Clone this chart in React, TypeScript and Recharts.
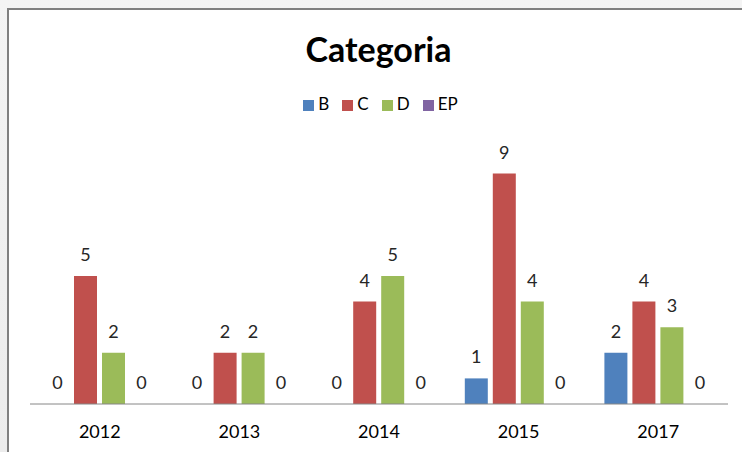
import { Bar, BarChart, LabelList, Legend, XAxis, YAxis } from "recharts";

const years = ["2012", "2013", "2014", "2015", "2017"];
const seriesB = [0, 0, 0, 1, 2];
const seriesC = [5, 2, 4, 9, 4];
const seriesD = [2, 2, 5, 4, 3];
const seriesEP = [0, 0, 0, 0, 0];

const data = years.map((year, i) => ({
  year,
  B: seriesB[i],
  C: seriesC[i],
  D: seriesD[i],
  EP: seriesEP[i],
}));

const font = "Lato, 'Open Sans', sans-serif";

const series = [
  { key: "B", color: "#4F81BD" },
  { key: "C", color: "#C0504D" },
  { key: "D", color: "#9BBB59" },
  { key: "EP", color: "#8064A2" },
];

export default function App() {
  return (
    <div
      style={{
        position: "absolute",
        left: 0,
        top: 0,
        width: 742,
        height: 452,
        overflow: "hidden",
        background: "linear-gradient(#f4f4f4, #ececec)",
        fontFamily: font,
      }}
    >
      <div
        style={{
          position: "absolute",
          left: 7,
          top: 8,
          width: 800,
          height: 500,
          background: "#fff",
          borderTop: "2px solid #808080",
          borderLeft: "2px solid #808080",
        }}
      />
      <div
        style={{
          position: "absolute",
          left: 0,
          top: 28,
          width: 757,
          textAlign: "center",
          fontSize: 34,
          fontWeight: 700,
          color: "#000",
        }}
      >
        Categoria
      </div>
      <div style={{ position: "absolute", left: 0, top: 0 }}>
        <BarChart
          width={742}
          height={452}
          data={data}
          margin={{ top: 127, right: 14, bottom: 18, left: 30 }}
          barCategoryGap={16}
          barGap={5}
        >
          <XAxis
            dataKey="year"
            tickLine={false}
            axisLine={{ stroke: "#868686" }}
            tick={{ fill: "#000", fontSize: 18, fontFamily: font }}
            tickMargin={15}
          />
          <YAxis hide domain={[0, 10]} />
          <Legend
            verticalAlign="top"
            align="center"
            iconType="square"
            iconSize={11}
            wrapperStyle={{ top: 93, left: 16, width: 742, fontSize: 17, fontFamily: font }}
            formatter={(value) => <span style={{ color: "#000", marginRight: 3 }}>{value}</span>}
          />
          {series.map((s) => (
            <Bar
              key={s.key}
              dataKey={s.key}
              fill={s.color}
              minPointSize={0.01}
              isAnimationActive={false}
            >
              <LabelList
                dataKey={s.key}
                position="top"
                offset={15}
                fill="#262626"
                fontSize={18}
                fontFamily={font}
              />
            </Bar>
          ))}
        </BarChart>
      </div>
    </div>
  );
}
